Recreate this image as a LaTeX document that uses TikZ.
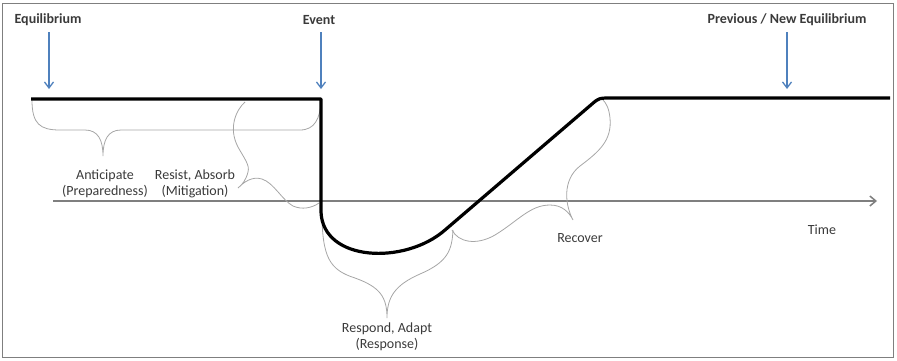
\documentclass[tikz,border=0pt]{standalone}
\usepackage{fontspec}
\setmainfont{Carlito}
\usetikzlibrary{arrows.meta}
\definecolor{txt}{HTML}{3A3A3A}
\definecolor{arrowblue}{HTML}{4F81BD}
\definecolor{bracegray}{HTML}{A6A6A6}
\definecolor{axisgray}{HTML}{7F7F7F}
\tikzset{
  toplabel/.style={font=\fontsize{14}{16}\selectfont\bfseries, text=txt, inner sep=0pt},
  bodylabel/.style={font=\fontsize{14}{16}\selectfont, text=txt, align=center, inner sep=0pt},
  bluearrow/.style={draw=arrowblue, line width=1.3pt, -{Straight Barb[length=6pt,width=9pt]}},
  curveline/.style={draw=black, line width=3.2pt, line join=round},
  brace/.style={draw=bracegray, line width=0.8pt},
  timeaxis/.style={draw=axisgray, line width=1.5pt, -{Straight Barb[length=6pt,width=10pt]}}
}
\begin{document}
\begin{tikzpicture}[x=1pt,y=-1pt]
\useasboundingbox (0,0) rectangle (897,360);
\draw[axisgray, line width=1pt] (2,3) rectangle (893,357);

% labels
\node[toplabel] (eq) at (48,20) {Equilibrium};
\node[toplabel] (ev) at (319,20) {Event};
\node[toplabel] (neq) at (787,20) {Previous / New Equilibrium};
\coordinate (eqa) at (49,32);   \coordinate (eqb) at (49,89);
\coordinate (eva) at (321,32);  \coordinate (evb) at (321,89);
\coordinate (neqa) at (787,32); \coordinate (neqb) at (787,89);
\draw[bluearrow] (eqa) -- (eqb);
\draw[bluearrow] (eva) -- (evb);
\draw[bluearrow] (neqa) -- (neqb);

% time axis
\coordinate (t0) at (53,201);
\coordinate (t1) at (877,201);
\draw[timeaxis] (t0) -- (t1);
\node[bodylabel] (time) at (822,230) {Time};

% braces
\draw[brace] (32,100) .. controls (32,124) and (40,130) .. (60,130) -- (85,130)
  .. controls (98,130) and (103,140) .. (103,156)
  .. controls (103,140) and (108,130) .. (121,130) -- (300,130)
  .. controls (315,130) and (320,118) .. (321,102);
\draw[brace] (245,102) .. controls (236,110) and (228,128) .. (238,147)
  .. controls (244,158) and (250,165) .. (248,172)
  .. controls (246,180) and (242,185) .. (238,188)
  .. controls (244,182) and (252,176) .. (262,179)
  .. controls (274,183) and (282,200) .. (293,206)
  .. controls (302,210) and (312,208) .. (319,203);
\draw[brace] (322,212) .. controls (322,258) and (330,270) .. (355,278)
  .. controls (380,287) and (387,297) .. (387,318)
  .. controls (387,297) and (395,285) .. (420,274)
  .. controls (448,262) and (452,250) .. (453,230);
\draw[brace] (452,230) .. controls (458,242) and (476,246) .. (495,235)
  .. controls (518,221) and (530,205) .. (550,205)
  .. controls (562,205) and (569,212) .. (573,220)
  .. controls (565,205) and (562,180) .. (580,166)
  .. controls (600,151) and (612,140) .. (610,118)
  .. controls (609,108) and (606,103) .. (603,100);

\node[bodylabel] (antic) at (105,184) {Anticipate\\(Preparedness)};
\node[bodylabel] (resist) at (195,184) {Resist, Absorb\\(Mitigation)};
\node[bodylabel] (respond) at (387,337) {Respond, Adapt\\(Response)};
\node[bodylabel] (recover) at (580,238) {Recover};

% main curve
\draw[curveline] (31,99) -- (321,99) -- (321,212)
  .. controls (323,262) and (405,265) .. (445,230)
  -- (592,104) .. controls (599,98) .. (612,98) -- (890,98);
\end{tikzpicture}
\end{document}
